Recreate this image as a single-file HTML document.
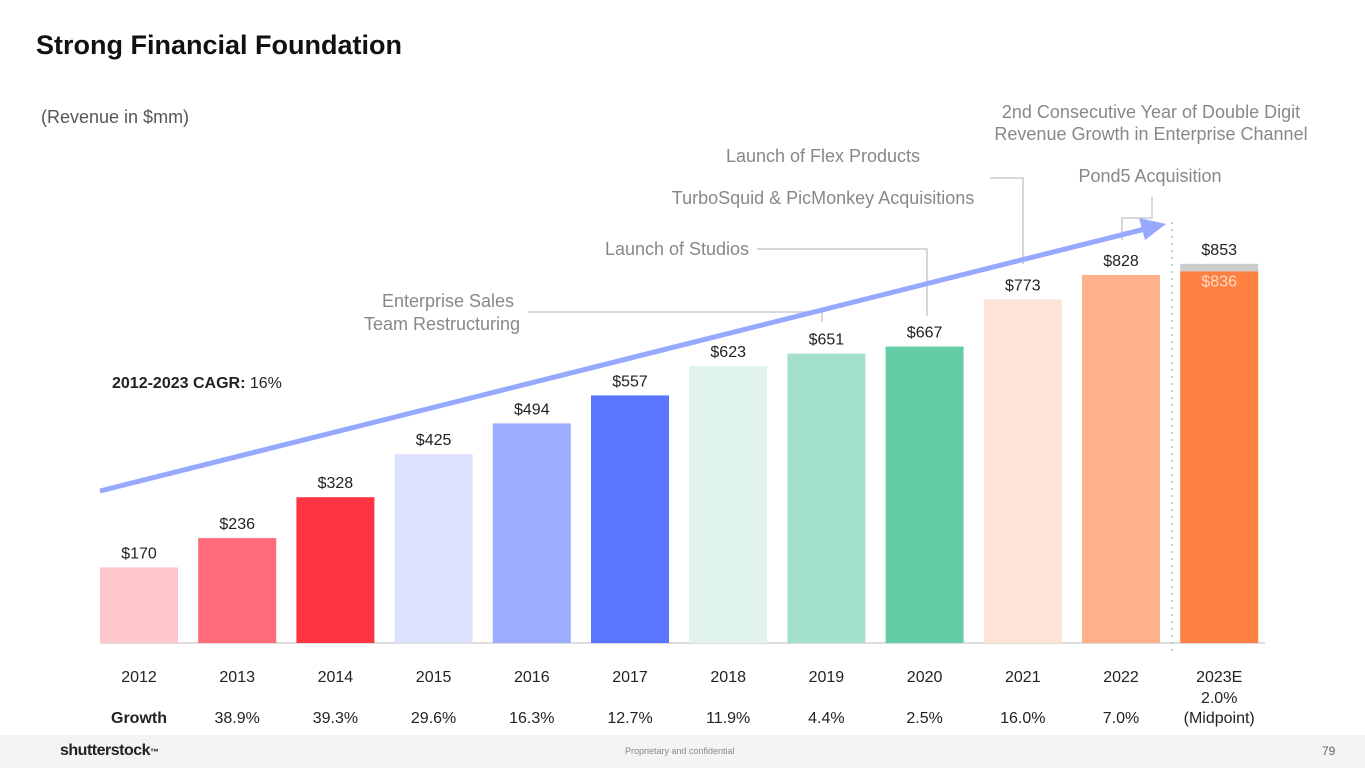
<!DOCTYPE html>
<html><head><meta charset="utf-8"><style>
body{margin:0;width:1365px;height:768px;overflow:hidden;background:#fff;font-family:"Liberation Sans",sans-serif;position:relative}
.t{position:absolute;white-space:nowrap}
</style></head><body>
<div class="t" style="left:36px;top:30px;font-size:27px;font-weight:bold;color:#111">Strong Financial Foundation</div>
<div class="t" style="left:41px;top:107px;font-size:18px;color:#555">(Revenue in $mm)</div>
<svg id="c" width="1365" height="768" style="position:absolute;left:0;top:0"></svg>
<div style="position:absolute;left:0;top:735px;width:1365px;height:33px;background:#f4f4f4"></div>
<div class="t" style="left:60px;top:742px;font-size:16px;font-weight:bold;color:#222;letter-spacing:-0.5px">shutterstock<span style="font-size:9px">™</span></div>
<div class="t" style="left:625px;top:746px;font-size:9px;color:#888">Proprietary and confidential</div>
<div class="t" style="left:1322px;top:744px;font-size:12px;color:#666">79</div>
<script>
const years=["2012","2013","2014","2015","2016","2017","2018","2019","2020","2021","2022","2023E"];
const revenue=[170,236,328,425,494,557,623,651,667,773,828,836];
const topUp=[0,0,0,0,0,0,0,0,0,0,0,853];
const growth=["38.9%","39.3%","29.6%","16.3%","12.7%","11.9%","4.4%","2.5%","16.0%","7.0%","2.0%"];
const colors=["#ffc7cc","#ff6b78","#ff3443","#dde1fd","#9cacff","#5a76ff","#e0f3ec","#a2e0cb","#65cda6","#ffe3d9","#ffb18c","#ff8142"];
const svg=document.getElementById('c');const NS='http://www.w3.org/2000/svg';
const base=643,k=0.4445,x0=139,step=98.2,bw=78;
const X=i=>x0+i*step, Y=v=>base-v*k;
function mk(t,a){const e=document.createElementNS(NS,t);for(const n in a)e.setAttribute(n,a[n]);svg.appendChild(e);return e;}
function tx(s,x,y,a){const e=mk('text',Object.assign({x:x,y:y,'text-anchor':'middle','font-size':16,fill:'#222','font-family':'Liberation Sans, sans-serif'},a||{}));e.textContent=s;return e;}
let ax=mk('line',{x1:100,x2:1265,y1:base,y2:base,stroke:'#ddd','stroke-width':2});

years.forEach((y,i)=>{
  if(topUp[i]){let g=mk('rect',{x:X(i)-bw/2,y:Y(topUp[i]),width:bw,height:Y(revenue[i])-Y(topUp[i]),fill:'#cccccc'});
    }
  let r=mk('rect',{x:X(i)-bw/2,y:Y(revenue[i]),width:bw,height:base-Y(revenue[i]),fill:colors[i]});
  
  let l;
  if(topUp[i]){l=tx('$'+revenue[i],X(i),Y(revenue[i])+15,{fill:'#ffd8c4'});tx('$'+topUp[i],X(i),Y(topUp[i])-9);}
  else l=tx('$'+revenue[i],X(i),Y(revenue[i])-9);
  
  let yl=tx(y,X(i),682);
  if(i>0){let gl=tx(i<11?growth[i-1]:growth[i-1],X(i),i<11?723:703);}
});
tx('(Midpoint)',X(11),723);
let gh=tx('Growth',X(0),723,{'font-weight':'bold'});
mk('line',{x1:1172,x2:1172,y1:222,y2:655,stroke:'#bbb','stroke-width':1.5,'stroke-dasharray':'2 5'});
// annotations
const gray='#ccc';
function pl(p){mk('polyline',{points:p,fill:'none',stroke:gray,'stroke-width':1.5});}
pl('528,312 822,312 822,322');pl('757,249 927,249 927,316');pl('990,178 1023,178 1023,264');pl('1152,197 1152,218 1122,218 1122,240');
const an=[['Enterprise Sales',448,307],['Team Restructuring',442,330],['Launch of Studios',677,255],['TurboSquid & PicMonkey Acquisitions',823,204],['Launch of Flex Products',823,162],['Pond5 Acquisition',1150,182],['2nd Consecutive Year of Double Digit',1151,118],['Revenue Growth in Enterprise Channel',1151,140]];
an.forEach(a=>{let e=tx(a[0],a[1],a[2],{fill:'#888','font-size':18});});
let ar=mk('line',{x1:100,y1:491,x2:1145,y2:229,stroke:'#97a8ff','stroke-width':5});

mk('polygon',{points:'1166,224 1139,218 1145,240',fill:'#97a8ff'});
let cg=tx('',112,388,{'text-anchor':'start'});cg.innerHTML='<tspan font-weight="bold">2012-2023 CAGR:</tspan> 16%';

</script>
</body></html>
